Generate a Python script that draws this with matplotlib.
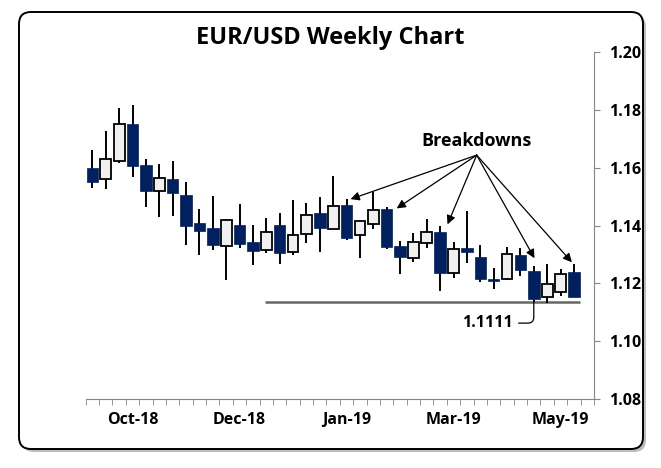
import matplotlib.pyplot as plt
from matplotlib.patches import FancyBboxPatch
from matplotlib.transforms import IdentityTransform

plt.rcParams['font.family'] = ['Open Sans', 'DejaVu Sans']

# weekly EUR/USD candles
opens = [1.1599, 1.1560, 1.1622, 1.1750, 1.1608, 1.1518, 1.1560, 1.1504, 1.1408, 1.1390,
         1.1328, 1.1401, 1.1343, 1.1314, 1.1402, 1.1308, 1.1370, 1.1443, 1.1389, 1.1471,
         1.1368, 1.1404, 1.1457, 1.1329, 1.1287, 1.1339, 1.1377, 1.1235, 1.1321, 1.1290,
         1.1215, 1.1216, 1.1297, 1.1242, 1.1152, 1.1171, 1.1240]
highs = [1.1660, 1.1725, 1.1805, 1.1815, 1.1629, 1.1611, 1.1622, 1.1549, 1.1457, 1.1501,
         1.1422, 1.1473, 1.1401, 1.1425, 1.1442, 1.1487, 1.1478, 1.1497, 1.1571, 1.1491,
         1.1418, 1.1515, 1.1465, 1.1347, 1.1373, 1.1421, 1.1398, 1.1342, 1.1449, 1.1332,
         1.1254, 1.1325, 1.1323, 1.1260, 1.1266, 1.1251, 1.1266]
lows = [1.1528, 1.1525, 1.1615, 1.1566, 1.1463, 1.1428, 1.1432, 1.1332, 1.1298, 1.1314,
        1.1211, 1.1321, 1.1263, 1.1306, 1.1266, 1.1297, 1.1339, 1.1309, 1.1387, 1.1349,
        1.1287, 1.1387, 1.1319, 1.1232, 1.1273, 1.1321, 1.1174, 1.1218, 1.1270, 1.1204,
        1.1180, 1.1212, 1.1227, 1.1137, 1.1132, 1.1157, 1.1152]
closes = [1.1550, 1.1629, 1.1749, 1.1606, 1.1520, 1.1563, 1.1513, 1.1399, 1.1382, 1.1334,
          1.1418, 1.1337, 1.1313, 1.1377, 1.1306, 1.1366, 1.1435, 1.1392, 1.1466, 1.1357,
          1.1415, 1.1455, 1.1327, 1.1292, 1.1342, 1.1377, 1.1237, 1.1320, 1.1310, 1.1214,
          1.1210, 1.1301, 1.1245, 1.1145, 1.1199, 1.1232, 1.1154]

month_pos = [3, 11, 19, 27, 35]
month_labels = ['Oct-18', 'Dec-18', 'Jan-19', 'Mar-19', 'May-19']
support = 1.1137
breakdown_tips = [(19.3, 1.1491), (22.75, 1.1459), (26.55, 1.1404), (33.05, 1.1287), (35.85, 1.1273)]

navy = '#002060'
fig = plt.figure(figsize=(6.61, 4.68), dpi=100)

# rounded frame with a soft shadow
shadow = FancyBboxPatch((22, 16), 624, 437, boxstyle='round,pad=0,rounding_size=12',
                        transform=IdentityTransform(), fc='#bdbdbd', ec='none', zorder=-2)
frame = FancyBboxPatch((19, 19), 624, 437, boxstyle='round,pad=0,rounding_size=12',
                       transform=IdentityTransform(), fc='white', ec='black', lw=1.4, zorder=-1)
fig.patches.extend([shadow, frame])

ax = fig.add_axes([0.1297, 0.1468, 0.7689, 0.7427])
ax.set_zorder(2)
ax.set_facecolor('none')

for i in range(len(opens)):
    o, h, l, c = opens[i], highs[i], lows[i], closes[i]
    ax.vlines(i, l, h, color='black', lw=1.4, zorder=2)
    if c >= o:
        ax.bar(i, c - o, bottom=o, width=0.8, color='#f0f0f0', edgecolor='black', lw=1.3, zorder=3)
    else:
        ax.bar(i, o - c, bottom=c, width=0.86, color=navy, edgecolor=navy, lw=0.5, zorder=3)

ax.hlines(support, 12.9, 36.45, color='#666666', lw=1.8, zorder=1)

ax.set_xlim(-0.5, 37.5)
ax.set_ylim(1.08, 1.20)

ax.spines['left'].set_visible(False)
ax.spines['top'].set_visible(False)
ax.spines['right'].set_color('#868686')
ax.spines['bottom'].set_color('#868686')

ax.yaxis.tick_right()
ax.set_yticks([1.08, 1.10, 1.12, 1.14, 1.16, 1.18, 1.20])
ax.set_yticklabels(['%.2f' % v for v in ax.get_yticks()], fontweight='bold', fontsize=11.5)
ax.tick_params(axis='y', length=4, color='#868686', pad=7)

ax.set_xticks(month_pos)
ax.set_xticklabels(month_labels, fontweight='bold', fontsize=11.5)
ax.set_xticks([k - 0.5 for k in range(39)], minor=True)
ax.tick_params(axis='x', which='major', length=0, pad=9)
ax.tick_params(axis='x', which='minor', length=4, color='#868686')

fig.text(0.5, 1 - 38 / 468, 'EUR/USD Weekly Chart', ha='center', va='center',
         fontsize=17, fontweight='bold')

ax.text(28.73, 1.1692, 'Breakdowns', ha='center', va='center', fontsize=13, fontweight='bold')
for tip in breakdown_tips:
    ax.annotate('', xy=tip, xytext=(28.73, 1.1643),
                arrowprops=dict(arrowstyle='-|>', color='black', lw=0.9,
                                shrinkA=0, shrinkB=0, mutation_scale=13))

ax.annotate('1.1111', xy=(33, support), xytext=(29.55, 1.1063), ha='center', va='center',
            fontsize=11.5, fontweight='bold',
            arrowprops=dict(arrowstyle='-', color='black', lw=0.9, shrinkA=2, shrinkB=0,
                            connectionstyle='angle,angleA=0,angleB=90,rad=6'))

fig.savefig('out.png', dpi=100)
